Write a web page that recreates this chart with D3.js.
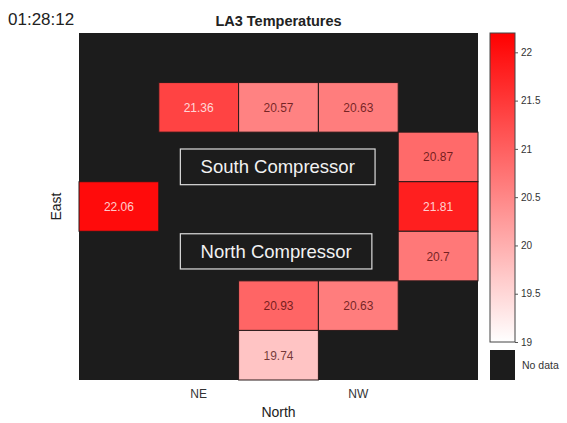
<!DOCTYPE html>
<html>
<head>
<meta charset="utf-8">
<script src="https://cdn.jsdelivr.net/npm/d3@7"></script>
<style>
  body { margin: 0; background: #fff; }
  svg { font-family: "Liberation Sans", Arial, sans-serif; }
</style>
</head>
<body>
<svg id="svg"></svg>
<script>
// chart data
var timeStamp = "01:28:12";
var title = "LA3 Temperatures";
var xLabels = ["", "NE", "", "NW", ""];
var rowCount = 7;
var cellRows = [1, 1, 1, 2, 3, 3, 4, 5, 5, 6];
var cellCols = [1, 2, 3, 4, 0, 4, 4, 2, 3, 2];
var cellTemps = [21.36, 20.57, 20.63, 20.87, 22.06, 21.81, 20.7, 20.93, 20.63, 19.74];
var colorTicks = [19, 19.5, 20, 20.5, 21, 21.5, 22];
var colorRange = [19, 22.2];

var width = 567, height = 423;
var plot = {x0: 79, x1: 478, y0: 33, y1: 380};

var svg = d3.select("#svg").attr("width", width).attr("height", height);

var x = d3.scaleBand().domain(d3.range(xLabels.length)).range([plot.x0, plot.x1]);
var y = d3.scaleBand().domain(d3.range(rowCount)).range([plot.y0, plot.y1]);
var color = d3.scaleLinear().domain(colorRange).range(["#ffffff", "#ff0000"]).clamp(true);

// header
svg.append("text").attr("x", 8).attr("y", 25)
    .attr("font-size", 17).attr("fill", "#222").text(timeStamp);
svg.append("text").attr("x", (plot.x0 + plot.x1) / 2).attr("y", 25.5)
    .attr("text-anchor", "middle").attr("font-size", 14.5).attr("font-weight", "bold")
    .attr("fill", "#222").text(title);

// missing data background
svg.append("rect")
    .attr("x", plot.x0).attr("y", plot.y0)
    .attr("width", plot.x1 - plot.x0).attr("height", plot.y1 - plot.y0)
    .attr("fill", "#1c1c1c");

var cells = cellTemps.map(function(v, i){ return {r: cellRows[i], c: cellCols[i], v: v}; });

var g = svg.append("g");
g.selectAll("rect.cell").data(cells).enter().append("rect")
    .attr("class", "cell")
    .attr("x", function(d){ return x(d.c); })
    .attr("y", function(d){ return y(d.r); })
    .attr("width", x.bandwidth())
    .attr("height", y.bandwidth())
    .attr("fill", function(d){ return color(d.v); })
    .attr("stroke", "#2a1a1a").attr("stroke-width", 1);

g.selectAll("text.val").data(cells).enter().append("text")
    .attr("class", "val")
    .attr("x", function(d){ return x(d.c) + x.bandwidth() / 2; })
    .attr("y", function(d){ return y(d.r) + y.bandwidth() / 2 + 4.5; })
    .attr("text-anchor", "middle").attr("font-size", 12)
    .attr("fill", function(d){ return d.v > 21.2 ? "#fff" : "#400000"; })
    .attr("fill-opacity", function(d){ return d.v > 21.2 ? 0.8 : 0.72; })
    .text(function(d){ return d.v; });

// compressor boxes (in cell units)
var boxes = [
    {label: "South Compressor", c0: 1.27, c1: 3.71, r0: 2.34, r1: 3.06},
    {label: "North Compressor", c0: 1.27, c1: 3.67, r0: 4.05, r1: 4.76}
];
var colW = x.step(), rowH = y.step();
boxes.forEach(function(b){
    var bx = plot.x0 + b.c0 * colW, bw = (b.c1 - b.c0) * colW;
    var by = plot.y0 + b.r0 * rowH, bh = (b.r1 - b.r0) * rowH;
    svg.append("rect").attr("x", bx).attr("y", by).attr("width", bw).attr("height", bh)
        .attr("fill", "none").attr("stroke", "#ddd").attr("stroke-width", 1.2);
    svg.append("text").attr("x", bx + bw / 2).attr("y", by + bh / 2 + 6.5)
        .attr("text-anchor", "middle").attr("font-size", 18.5).attr("fill", "#f2f2f2")
        .text(b.label);
});

// x tick labels & axis titles
svg.selectAll("text.xt").data(xLabels).enter().append("text")
    .attr("class", "xt")
    .attr("x", function(d, i){ return x(i) + x.bandwidth() / 2; })
    .attr("y", 398).attr("text-anchor", "middle").attr("font-size", 12).attr("fill", "#333")
    .text(function(d){ return d; });
svg.append("text").attr("x", (plot.x0 + plot.x1) / 2).attr("y", 417)
    .attr("text-anchor", "middle").attr("font-size", 14).attr("fill", "#222").text("North");
svg.append("text").attr("transform", "translate(61," + ((plot.y0 + plot.y1) / 2) + ") rotate(-90)")
    .attr("text-anchor", "middle").attr("font-size", 14).attr("fill", "#222").text("East");

// colorbar
var cb = {x: 490, w: 25, y0: 33, y1: 342};
var cy = d3.scaleLinear().domain(colorRange).range([cb.y1, cb.y0]);
var defs = svg.append("defs");
var grad = defs.append("linearGradient").attr("id", "cbgrad")
    .attr("x1", 0).attr("y1", 1).attr("x2", 0).attr("y2", 0);
grad.selectAll("stop").data(d3.range(0, 1.01, 0.1)).enter().append("stop")
    .attr("offset", function(d){ return d; })
    .attr("stop-color", function(d){ return color(colorRange[0] + d * (colorRange[1] - colorRange[0])); });
svg.append("rect").attr("x", cb.x).attr("y", cb.y0).attr("width", cb.w).attr("height", cb.y1 - cb.y0)
    .attr("fill", "url(#cbgrad)").attr("stroke", "#444").attr("stroke-width", 1);

var cax = svg.append("g").attr("transform", "translate(" + (cb.x + cb.w) + ",0)")
    .call(d3.axisRight(cy).tickValues(colorTicks).tickSize(3).tickFormat(d3.format("")));
cax.select(".domain").remove();
cax.selectAll("line").attr("stroke", "#555");
cax.selectAll("text").attr("font-size", 10).attr("fill", "#333")
    .attr("font-family", "Liberation Sans, Arial, sans-serif").attr("x", 6);

svg.append("rect").attr("x", cb.x).attr("y", 350).attr("width", cb.w).attr("height", 30)
    .attr("fill", "#1c1c1c");
svg.append("text").attr("x", cb.x + cb.w + 7).attr("y", 369)
    .attr("font-size", 10.5).attr("fill", "#333").text("No data");
</script>
</body>
</html>
